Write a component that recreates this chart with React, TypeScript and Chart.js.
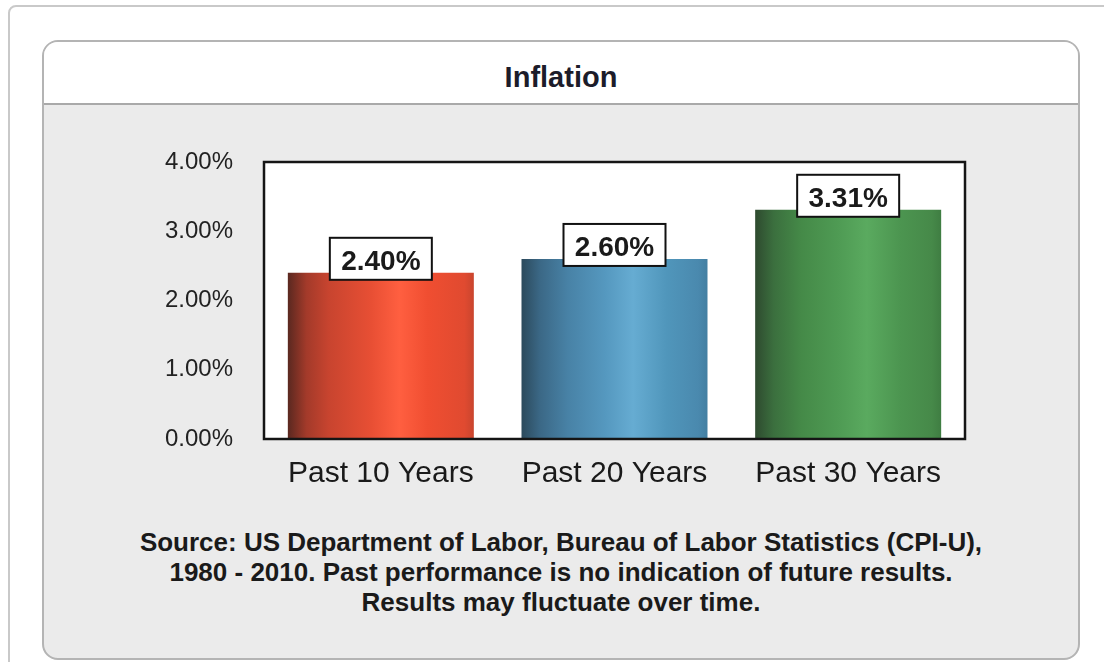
import React, { useEffect, useRef } from "react";
import { Chart, registerables } from "chart.js";

Chart.register(...registerables);

const titleText = "Inflation";
const categories = ["Past 10 Years", "Past 20 Years", "Past 30 Years"];
const inflationValues = [2.4, 2.6, 3.31];
const yTickValues = [0, 1, 2, 3, 4];
const sourceLines = [
  "Source: US Department of Labor, Bureau of Labor Statistics (CPI-U),",
  "1980 - 2010. Past performance is no indication of future results.",
  "Results may fluctuate over time.",
];

const FONT = "'Liberation Sans', Arial, Helvetica, sans-serif";

const barGradients: [number, string][][] = [
  [
    [0, "#5a2820"],
    [0.1, "#a33a2a"],
    [0.22, "#c8442f"],
    [0.45, "#e84f34"],
    [0.6, "#ff5f40"],
    [0.75, "#f04e31"],
    [0.95, "#e04a30"],
    [1, "#c9452e"],
  ],
  [
    [0, "#2c4a5c"],
    [0.1, "#3b6886"],
    [0.25, "#4882a6"],
    [0.45, "#5598bf"],
    [0.6, "#66acd2"],
    [0.78, "#5096bb"],
    [0.95, "#4a89ae"],
    [1, "#437fa2"],
  ],
  [
    [0, "#2e4a2f"],
    [0.1, "#3b6f3e"],
    [0.25, "#458a48"],
    [0.45, "#4f9b54"],
    [0.6, "#5aaa5f"],
    [0.78, "#4c9550"],
    [0.95, "#468949"],
    [1, "#3f7d42"],
  ],
];

const BAR_PCT = 0.796;

const plotDecor = {
  id: "plotDecor",
  beforeDatasetsDraw(chart: any) {
    const { ctx, chartArea } = chart;
    ctx.save();
    ctx.fillStyle = "#ffffff";
    ctx.fillRect(chartArea.left, chartArea.top, chartArea.right - chartArea.left, chartArea.bottom - chartArea.top);
    ctx.restore();
  },
  afterDatasetsDraw(chart: any) {
    const { ctx, chartArea } = chart;
    ctx.save();
    ctx.strokeStyle = "#151515";
    ctx.lineWidth = 2.5;
    ctx.strokeRect(chartArea.left, chartArea.top, chartArea.right - chartArea.left, chartArea.bottom - chartArea.top);
    // value labels
    const meta = chart.getDatasetMeta(0);
    meta.data.forEach((bar: any, i: number) => {
      const v = chart.data.datasets[0].data[i] as number;
      const w = 102;
      const h = 42;
      const left = bar.x - w / 2;
      const top = bar.y - 35;
      ctx.fillStyle = "#ffffff";
      ctx.fillRect(left, top, w, h);
      ctx.strokeStyle = "#111111";
      ctx.lineWidth = 2;
      ctx.strokeRect(left, top, w, h);
      ctx.fillStyle = "#1a1a1a";
      ctx.font = `bold 28px ${FONT}`;
      ctx.textAlign = "center";
      ctx.textBaseline = "alphabetic";
      ctx.fillText(v.toFixed(2) + "%", bar.x, top + 32);
    });
    ctx.restore();
  },
};

function InflationChart() {
  const ref = useRef<HTMLCanvasElement>(null);
  useEffect(() => {
    if (!ref.current) return;
    const chart = new Chart(ref.current, {
      type: "bar",
      data: {
        labels: categories,
        datasets: [
          {
            data: inflationValues,
            categoryPercentage: 1,
            barPercentage: BAR_PCT,
            borderWidth: 0,
            backgroundColor: (c: any) => {
              const ch = c.chart;
              if (!ch.chartArea || !ch.scales.x) return "#888";
              const xs = ch.scales.x;
              const cx = xs.getPixelForValue(c.dataIndex);
              const bw = (xs.width / categories.length) * BAR_PCT;
              const g = ch.ctx.createLinearGradient(cx - bw / 2, 0, cx + bw / 2, 0);
              (barGradients[c.dataIndex] || barGradients[0]).forEach(([s, col]) => g.addColorStop(s, col));
              return g;
            },
          },
        ],
      },
      options: {
        responsive: false,
        animation: false,
        events: [],
        layout: { padding: { left: 0, top: 58, right: 113, bottom: 0 } },
        plugins: {
          legend: { display: false },
          tooltip: { enabled: false },
          title: { display: false },
        },
        scales: {
          x: {
            grid: { display: false, drawTicks: false },
            border: { display: false },
            ticks: {
              padding: 17,
              color: "#1a1a1a",
              font: { family: FONT, size: 30 },
            },
            afterFit: (s: any) => {
              s.height = 85;
            },
          },
          y: {
            min: 0,
            max: 4,
            grid: { display: false, drawTicks: false },
            border: { display: false },
            afterBuildTicks: (s: any) => {
              s.ticks = yTickValues.map((v) => ({ value: v }));
            },
            ticks: {
              padding: 31,
              color: "#222222",
              font: { family: FONT, size: 24 },
              callback: (v: any) => Number(v).toFixed(2) + "%",
            },
            afterFit: (s: any) => {
              s.width = 220;
            },
          },
        },
      },
      plugins: [plotDecor],
    });
    return () => chart.destroy();
  }, []);
  return (
    <canvas
      ref={ref}
      width={1034}
      height={420}
      style={{ position: "absolute", left: 44, top: 104, width: 1034, height: 420 }}
    />
  );
}

export default function App() {
  return (
    <div style={{ position: "absolute", left: 0, top: 0, width: 1104, height: 662, overflow: "hidden", background: "#ffffff", fontFamily: FONT }}>
      <div
        style={{
          position: "absolute",
          left: 8,
          top: 5,
          width: 1200,
          height: 800,
          border: "2px solid #c9c9c9",
          borderTopLeftRadius: 8,
          boxSizing: "border-box",
        }}
      />
      <div
        style={{
          position: "absolute",
          left: 42,
          top: 40,
          width: 1038,
          height: 620,
          border: "2px solid #b4b4b4",
          borderRadius: 16,
          boxSizing: "border-box",
          background: "#ebebeb",
          overflow: "hidden",
        }}
      >
        <div
          style={{
            position: "absolute",
            left: 0,
            top: 0,
            right: 0,
            height: 61,
            background: "#ffffff",
            borderBottom: "2px solid #a9a9a9",
          }}
        />
      </div>
      <div
        style={{
          position: "absolute",
          left: 42,
          width: 1038,
          top: 63,
          textAlign: "center",
          fontSize: 29,
          lineHeight: "29px",
          fontWeight: "bold",
          color: "#1c1c2a",
        }}
      >
        {titleText}
      </div>
      <InflationChart />
      <div
        style={{
          position: "absolute",
          left: 42,
          width: 1038,
          top: 527,
          textAlign: "center",
          fontSize: 26,
          lineHeight: "30px",
          fontWeight: "bold",
          color: "#1a1a1a",
        }}
      >
        {sourceLines.map((l, i) => (
          <div key={i}>{l}</div>
        ))}
      </div>
    </div>
  );
}
